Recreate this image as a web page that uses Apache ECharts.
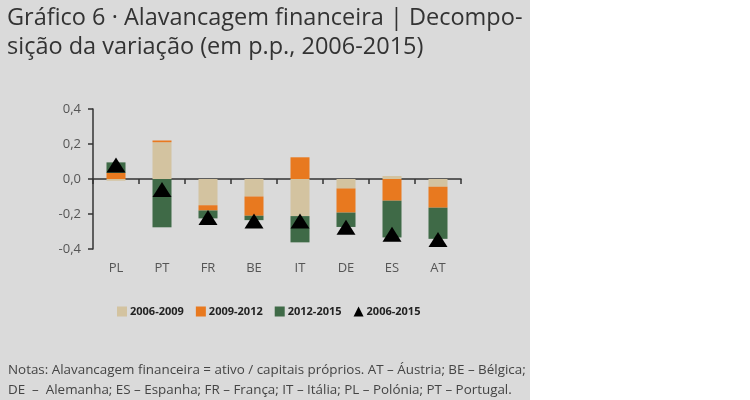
<!DOCTYPE html>
<html><head><meta charset="utf-8">
<script src="https://cdn.jsdelivr.net/npm/echarts@6/dist/echarts.min.js"></script>
<style>html,body{margin:0;padding:0;background:#fff}#c{width:750px;height:400px}</style>
</head><body><div id="c"></div>
<script>
const categories = ['PL','PT','FR','BE','IT','DE','ES','AT'];
const s0609 = [-0.01, 0.21, -0.15, -0.10, -0.212, -0.054, 0.017, -0.044];
const s0912 = [0.035, 0.01, -0.03, -0.11, 0.124, -0.138, -0.124, -0.12];
const s1215 = [0.06, -0.276, -0.045, -0.025, -0.15, -0.082, -0.21, -0.178];
const total = [0.08, -0.06, -0.22, -0.24, -0.24, -0.275, -0.315, -0.345];
const yTicks = [-0.4, -0.2, 0, 0.2, 0.4];
const names = ['2006-2009','2009-2012','2012-2015','2006-2015'];
const colors = ['#d3c3a0','#e8791f','#3f6a47','#000000'];
const F = '"Open Sans", "DejaVu Sans", sans-serif';

const chart = echarts.init(document.getElementById('c'));
chart.setOption({
  backgroundColor: '#ffffff',
  animation: false,
  graphic: [
    {type:'rect', shape:{x:0,y:0,width:530,height:400}, style:{fill:'#dadada'}, z:-10},
    {type:'text', left:7, top:6, style:{text:'Gráfico 6 · Alavancagem financeira | Decompo-', font:'400 23.5px '+F, fill:'#333'}},
    {type:'text', left:7, top:35, style:{text:'sição da variação (em p.p., 2006-2015)', font:'400 23.5px '+F, fill:'#333'}},
    {type:'text', left:8, top:364, style:{text:'Notas: Alavancagem financeira = ativo / capitais próprios. AT – Áustria; BE – Bélgica;', font:'400 13.4px '+F, fill:'#444'}},
    {type:'text', left:8, top:384, style:{text:'DE  –  Alemanha; ES – Espanha; FR – França; IT – Itália; PL – Polónia; PT – Portugal.', font:'400 13.4px '+F, fill:'#444'}}
  ],
  grid: {left:93, right:289, top:109, bottom:151, containLabel:false},
  legend: {
    data: names.map((n,i)=>({name:n, icon: i===3 ? 'triangle' : 'rect'})),
    left: 112, top: 301, itemWidth: 10, itemHeight: 10, itemGap: 12,
    textStyle: {fontFamily: F, fontWeight: 'bold', fontSize: 11, color: '#222', padding:[0,0,0,-2]}
  },
  xAxis: {
    type:'category', data: categories,
    axisLine:{onZero:true, lineStyle:{color:'#333', width:1.5}},
    axisTick:{show:true, length:5, lineStyle:{color:'#333', width:1.5}},
    axisLabel:{fontFamily:F, fontSize:13, color:'#555', margin:13},
    position:'bottom'
  },
  yAxis: {
    type:'value', min:-0.4, max:0.4, interval:0.2,
    axisLine:{show:true, lineStyle:{color:'#333', width:1.5}},
    axisTick:{show:true, length:5, lineStyle:{color:'#333', width:1.5}},
    splitLine:{show:false},
    axisLabel:{fontFamily:F, fontSize:13, color:'#555', margin:12,
      formatter: v => v.toFixed(1).replace('.', ',')}
  },
  series: [
    {name:names[0], type:'bar', stack:'a', data:s0609, barWidth:19, itemStyle:{color:colors[0]}},
    {name:names[1], type:'bar', stack:'a', data:s0912, barWidth:19, itemStyle:{color:colors[1]}},
    {name:names[2], type:'bar', stack:'a', data:s1215, barWidth:19, itemStyle:{color:colors[2]}},
    {name:names[3], type:'scatter', data:total, symbol:'triangle', symbolSize:[19,15], itemStyle:{color:colors[3], opacity:1}, z:10}
  ]
});
</script></body></html>
